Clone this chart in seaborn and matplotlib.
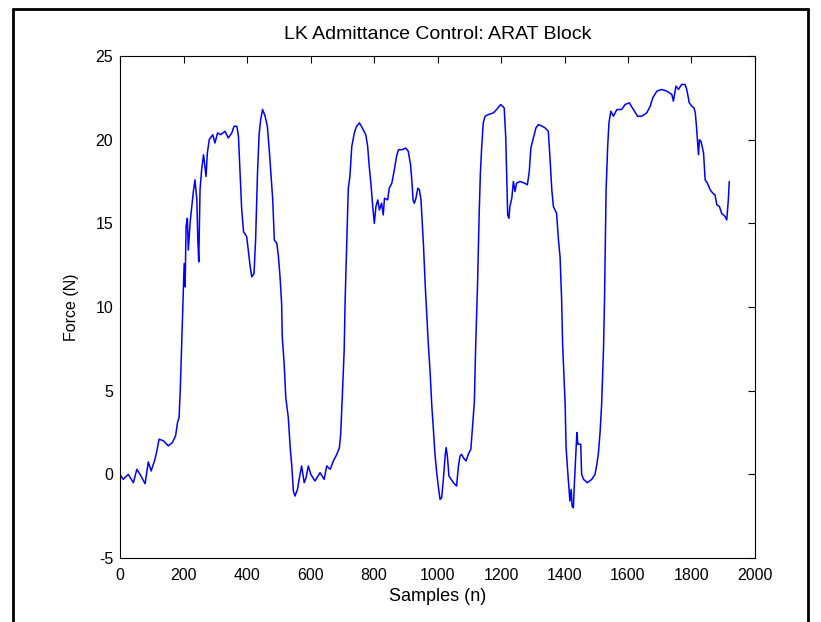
import numpy as np
import pandas as pd
import matplotlib
matplotlib.use("Agg")
import matplotlib.pyplot as plt
import seaborn as sns

# trace (sample index, force in N)
samples = [
    0, 10, 26, 42, 53, 63, 79, 89, 98, 110, 116, 123, 137, 152, 165, 175, 181, 186, 190, 194,
    198, 202, 205, 208, 212, 215, 221, 227, 231, 236, 242, 245, 248, 252, 257, 263, 271, 275, 281, 292,
    299, 307, 317, 331, 341, 352, 359, 368, 373, 378, 383, 389, 399, 404, 410, 415, 422, 427, 433, 438,
    443, 449, 457, 464, 470, 476, 481, 486, 494, 499, 504, 509, 511, 517, 522, 530, 536, 541, 546, 551,
    559, 565, 572, 580, 586, 593, 601, 614, 630, 643, 651, 662, 672, 683, 691, 695, 700, 706, 709, 714,
    719, 724, 730, 738, 745, 754, 763, 774, 780, 784, 791, 796, 801, 806, 812, 817, 824, 829, 833, 843,
    848, 856, 864, 871, 877, 889, 900, 908, 915, 919, 923, 927, 932, 938, 943, 948, 952, 956, 961, 966,
    971, 977, 982, 987, 992, 997, 1003, 1008, 1013, 1018, 1024, 1027, 1031, 1036, 1050, 1060, 1066, 1071, 1076, 1081,
    1090, 1097, 1105, 1111, 1116, 1120, 1126, 1131, 1135, 1139, 1144, 1150, 1160, 1176, 1186, 1199, 1210, 1215, 1218, 1221,
    1225, 1228, 1234, 1239, 1244, 1249, 1260, 1274, 1283, 1289, 1294, 1302, 1310, 1318, 1330, 1339, 1349, 1354, 1360, 1365,
    1375, 1381, 1386, 1391, 1394, 1399, 1402, 1405, 1410, 1414, 1417, 1421, 1424, 1428, 1431, 1435, 1439, 1442, 1451, 1454,
    1460, 1472, 1486, 1496, 1502, 1507, 1512, 1517, 1523, 1526, 1528, 1531, 1536, 1540, 1546, 1554, 1565, 1580, 1591, 1604,
    1617, 1630, 1643, 1659, 1670, 1678, 1691, 1706, 1722, 1738, 1743, 1751, 1759, 1769, 1780, 1785, 1793, 1801, 1808, 1812,
    1816, 1822, 1825, 1830, 1838, 1843, 1850, 1859, 1867, 1874, 1880, 1888, 1895, 1906, 1911, 1916, 1919,
]
force = [
    0.0, -0.3, 0.0, -0.5, 0.3, 0.0, -0.56, 0.74, 0.2, 0.9, 1.4, 2.1, 2.0, 1.7, 1.9, 2.3, 3.1, 3.4, 5.2, 7.7,
    10.4, 12.6, 11.2, 14.8, 15.3, 13.4, 15.1, 16.2, 16.9, 17.6, 16.4, 14.0, 12.7, 17.0, 18.2, 19.1, 17.8, 19.2, 20.0, 20.3,
    19.8, 20.4, 20.3, 20.5, 20.1, 20.4, 20.8, 20.8, 20.2, 18.0, 15.9, 14.5, 14.2, 13.4, 12.4, 11.8, 12.0, 14.0, 18.0, 20.3,
    21.2, 21.8, 21.4, 20.8, 19.4, 17.8, 16.4, 14.0, 13.8, 13.0, 11.8, 10.2, 8.2, 6.6, 4.6, 3.4, 1.6, 0.5, -1.0, -1.3,
    -0.9, -0.2, 0.5, -0.5, -0.2, 0.5, 0.0, -0.4, 0.1, -0.3, 0.5, 0.3, 0.8, 1.2, 1.6, 2.4, 4.6, 7.4, 10.4, 13.8,
    17.1, 17.8, 19.6, 20.4, 20.8, 21.0, 20.7, 20.3, 19.6, 18.6, 17.2, 16.0, 15.0, 16.0, 16.4, 15.8, 16.2, 15.5, 16.5, 16.4,
    17.1, 17.4, 18.2, 19.0, 19.4, 19.4, 19.5, 19.3, 18.5, 17.6, 16.4, 16.2, 16.5, 17.1, 17.0, 16.4, 15.0, 13.6, 11.4, 9.6,
    7.8, 6.0, 4.1, 2.7, 1.2, 0.2, -0.8, -1.5, -1.4, -0.4, 1.1, 1.6, 1.1, -0.1, -0.5, -0.7, 0.5, 1.1, 1.2, 1.0,
    0.8, 1.2, 1.5, 3.0, 4.3, 7.5, 11.3, 15.4, 18.0, 19.5, 21.0, 21.4, 21.5, 21.6, 21.8, 22.1, 21.9, 20.1, 17.7, 15.5,
    15.3, 16.0, 16.5, 17.5, 16.9, 17.4, 17.5, 17.4, 17.3, 18.1, 19.5, 20.1, 20.7, 20.9, 20.8, 20.7, 20.5, 19.0, 17.0, 16.0,
    15.6, 14.0, 13.0, 10.4, 7.8, 5.6, 4.2, 1.6, 0.2, -0.8, -1.6, -0.9, -1.9, -2.0, -0.6, 1.0, 2.5, 1.8, 1.8, 0.0,
    -0.3, -0.5, -0.3, 0.0, 0.6, 1.3, 2.5, 4.2, 7.6, 10.4, 13.0, 17.0, 19.6, 21.0, 21.7, 21.4, 21.8, 21.8, 22.1, 22.2,
    21.8, 21.4, 21.4, 21.6, 22.0, 22.5, 22.9, 23.0, 22.9, 22.7, 22.3, 23.2, 23.0, 23.3, 23.3, 23.0, 22.2, 22.0, 21.9, 21.6,
    20.7, 19.1, 20.0, 19.9, 19.2, 17.6, 17.4, 17.0, 16.8, 16.7, 16.1, 16.0, 15.6, 15.4, 15.2, 16.4, 17.5,
]
x_ticks = [0, 200, 400, 600, 800, 1000, 1200, 1400, 1600, 1800, 2000]
y_ticks = [-5, 0, 5, 10, 15, 20, 25]

df = pd.DataFrame({"Samples": samples, "Force": force})

sns.set_style("white")
plt.rcParams["font.family"] = ["Liberation Sans", "DejaVu Sans"]
plt.rcParams["xtick.direction"] = "in"
plt.rcParams["ytick.direction"] = "in"
plt.rcParams["axes.unicode_minus"] = False
plt.rcParams["text.color"] = "black"
plt.rcParams["axes.labelcolor"] = "black"

fig = plt.figure(figsize=(8.21, 6.22), dpi=100)
ax = fig.add_axes([0.1462, 0.1029, 0.7734, 0.8071])

sns.lineplot(data=df, x="Samples", y="Force", ax=ax, color="#0000ff",
             linewidth=1.1, estimator=None, sort=False)

ax.set_xlim(0, 2000)
ax.set_ylim(-5, 25)
ax.set_xticks(x_ticks)
ax.set_yticks(y_ticks)
ax.tick_params(axis="both", which="both", labelsize=11.5, length=5, width=0.8,
               top=True, right=True, colors="black")
ax.tick_params(axis="x", pad=7)
ax.tick_params(axis="y", pad=5)
for s in ax.spines.values():
    s.set_visible(True)
    s.set_color("black")
    s.set_linewidth(0.8)

ax.set_title("LK Admittance Control: ARAT Block", fontsize=14, pad=12, color="black")
ax.set_xlabel("Samples (n)", fontsize=13, labelpad=4)
ax.set_ylabel("Force (N)", fontsize=11.5, labelpad=12)

# black frame around the figure (open at bottom)
frame = dict(transform=fig.transFigure, color="black", linewidth=2)
fig.add_artist(plt.Line2D([13 / 821, 13 / 821], [0, 1 - 9 / 622], **frame))
fig.add_artist(plt.Line2D([13 / 821, 808 / 821], [1 - 9 / 622, 1 - 9 / 622], **frame))
fig.add_artist(plt.Line2D([808 / 821, 808 / 821], [0, 1 - 9 / 622], **frame))

fig.savefig("out.png", dpi=100)
